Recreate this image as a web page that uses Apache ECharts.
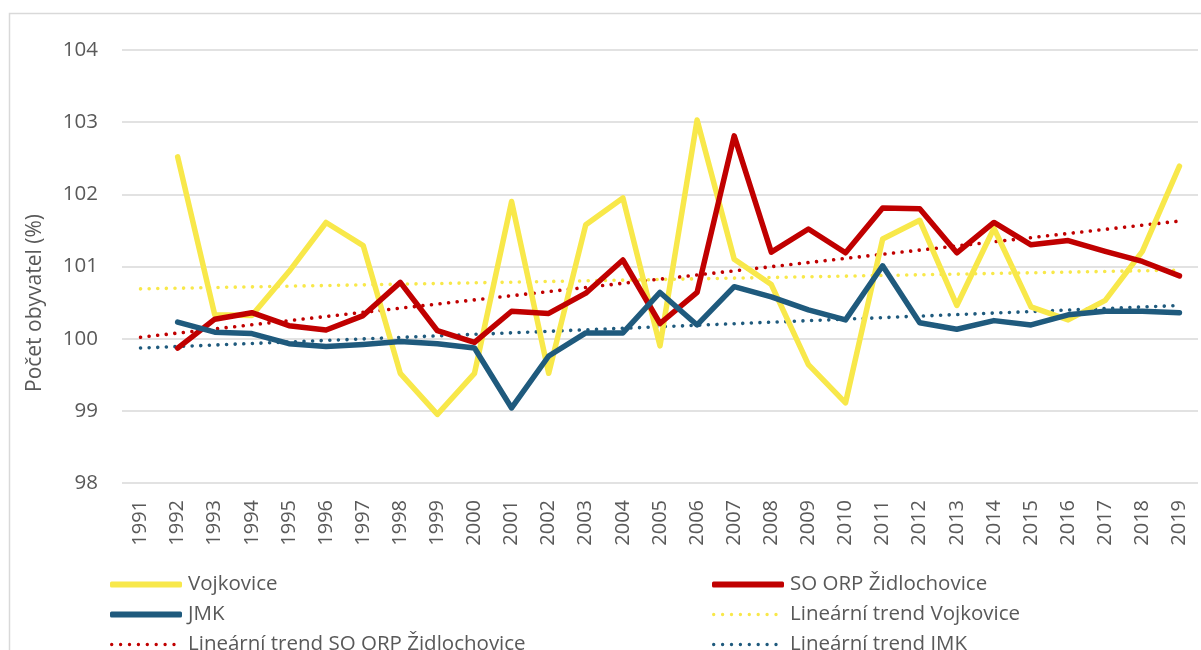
<!DOCTYPE html>
<html>
<head>
<meta charset="utf-8">
<script src="https://cdn.jsdelivr.net/npm/echarts@6/dist/echarts.min.js"></script>
<style>
html,body{margin:0;padding:0;background:#fff;}
#chart{width:1201px;height:650px;}
</style>
</head>
<body>
<div id="chart"></div>
<script>
const years = ['1991','1992','1993','1994','1995','1996','1997','1998','1999','2000','2001','2002','2003','2004','2005','2006','2007','2008','2009','2010','2011','2012','2013','2014','2015','2016','2017','2018','2019'];
const vojkovice = [null,102.52,100.33,100.32,100.93,101.61,101.29,99.52,98.95,99.52,101.90,99.52,101.58,101.95,99.90,103.03,101.10,100.75,99.64,99.11,101.38,101.64,100.46,101.53,100.44,100.26,100.53,101.21,102.39];
const soOrp = [null,99.87,100.27,100.36,100.18,100.12,100.32,100.78,100.11,99.95,100.38,100.35,100.63,101.09,100.21,100.64,102.81,101.20,101.52,101.19,101.81,101.80,101.19,101.61,101.30,101.36,101.21,101.07,100.87];
const jmk = [null,100.23,100.09,100.07,99.93,99.89,99.92,99.96,99.93,99.87,99.04,99.76,100.08,100.08,100.64,100.19,100.72,100.58,100.40,100.26,101.01,100.22,100.13,100.25,100.19,100.33,100.38,100.38,100.36];
// trend line endpoints (1991, 2019)
const trendVojkovice = [100.69, 100.95];
const trendSoOrp = [100.02, 101.63];
const trendJmk = [99.87, 100.46];
const yTicks = [98, 99, 100, 101, 102, 103, 104];

const names = ['Vojkovice','SO ORP Židlochovice','JMK','Lineární trend Vojkovice','Lineární trend SO ORP Židlochovice','Lineární trend JMK'];
const cYellow = '#F8E84A', cRed = '#C00000', cBlue = '#1F5A7D';
const font = 'Open Sans';
const txt = '#595959';

function endpoints(pair){
  return years.map((y,i)=> i===0 ? pair[0] : (i===years.length-1 ? pair[1] : null));
}
function solid(name, data, color){
  return {name, type:'line', data, symbol:'none', showSymbol:false, smooth:false,
    lineStyle:{color, width:5.5, cap:'round', join:'round'}, itemStyle:{color}, z:3};
}
function dotted(name, pair, color){
  return {name, type:'line', data:endpoints(pair), connectNulls:true, symbol:'none', showSymbol:false,
    lineStyle:{color, width:3.6, type:[0.01, 8.6], cap:'round'}, itemStyle:{color}, z:2};
}

// dotted legend icon: 8 dots (r=1.7) spread in a 72x3.4 box
let dotPath = 'path://';
for (let k = 0; k < 8; k++) {
  const cx = 1.7 + k * 8.9;
  dotPath += 'M' + (cx - 1.7) + ',1.7 a1.7,1.7 0 1,0 3.4,0 a1.7,1.7 0 1,0 -3.4,0 ';
}
dotPath += 'M71.9,1.7 L72,1.7 L72,1.72 Z';

function leg(name, left, centerY, dottedIcon){
  return {
    left: left, top: centerY - 13, orient:'horizontal',
    data:[{name: name, icon: dottedIcon ? dotPath : 'roundRect'}],
    itemWidth:72, itemHeight: dottedIcon ? 3.4 : 6, itemGap:0,
    textStyle:{color:txt, fontSize:20.5, fontFamily:font, lineHeight:20, padding:[0,0,0,1]}
  };
}

const chart = echarts.init(document.getElementById('chart'), null, {renderer:'canvas'});
chart.setOption({
  animation:false,
  backgroundColor:'#fff',
  textStyle:{fontFamily:font},
  graphic:[
    {type:'rect', shape:{x:9.5,y:13.5,width:1400,height:1000}, style:{fill:null, stroke:'#d9d9d9', lineWidth:1.5}, silent:true, z:-10},
    {type:'text', x:35, y:303, rotation:Math.PI/2, style:{text:'Počet obyvatel (%)', font:'21px "Open Sans"', fill:txt, align:'center', verticalAlign:'middle'}}
  ],
  grid:{left:122, right:3, top:50, bottom:167, containLabel:false},
  xAxis:{type:'category', data:years, boundaryGap:true,
    axisLine:{show:false}, axisTick:{show:false},
    axisLabel:{rotate:90, margin:17, color:txt, fontSize:20, fontFamily:font, interval:0}},
  yAxis:{type:'value', min:yTicks[0], max:yTicks[yTicks.length-1], interval:1,
    axisLine:{show:false}, axisTick:{show:false},
    axisLabel:{margin:24, color:txt, fontSize:20.5, fontFamily:font},
    splitLine:{lineStyle:{color:'#d9d9d9', width:1.5}}},
  legend:[
    leg(names[0], 105, 582, false),
    leg(names[2], 105, 612, false),
    leg(names[4], 105, 642, true),
    leg(names[1], 707, 582, false),
    leg(names[3], 707, 612, true),
    leg(names[5], 707, 642, true)
  ],
  series:[
    solid(names[0], vojkovice, cYellow),
    solid(names[1], soOrp, cRed),
    solid(names[2], jmk, cBlue),
    dotted(names[3], trendVojkovice, cYellow),
    dotted(names[4], trendSoOrp, cRed),
    dotted(names[5], trendJmk, cBlue)
  ]
});
</script>
</body>
</html>
